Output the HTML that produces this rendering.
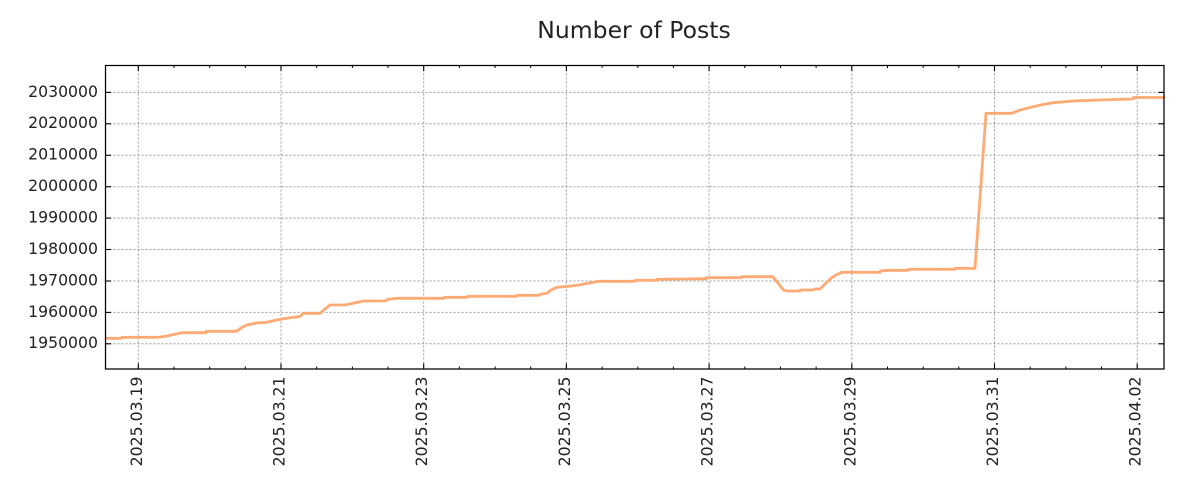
<!DOCTYPE html>
<html>
<head>
<meta charset="utf-8">
<style>
html,body{margin:0;padding:0;background:#fff;}
svg{display:block;}
text{font-family:"DejaVu Sans","Liberation Sans",sans-serif;fill:#222;}
</style>
</head>
<body>
<svg width="1200" height="500" viewBox="0 0 1200 500" xmlns="http://www.w3.org/2000/svg">
<rect x="0" y="0" width="1200" height="500" fill="#fff"/>
<text x="634" y="38" font-size="23.5" text-anchor="middle">Number of Posts</text>

<!-- grid -->
<g stroke="#9a9a9a" stroke-width="1" stroke-dasharray="2,2" fill="none">
  <line x1="105.5" y1="343.8" x2="1164" y2="343.8"/>
  <line x1="105.5" y1="312.4" x2="1164" y2="312.4"/>
  <line x1="105.5" y1="281.0" x2="1164" y2="281.0"/>
  <line x1="105.5" y1="249.5" x2="1164" y2="249.5"/>
  <line x1="105.5" y1="218.1" x2="1164" y2="218.1"/>
  <line x1="105.5" y1="186.7" x2="1164" y2="186.7"/>
  <line x1="105.5" y1="155.3" x2="1164" y2="155.3"/>
  <line x1="105.5" y1="123.8" x2="1164" y2="123.8"/>
  <line x1="105.5" y1="92.4" x2="1164" y2="92.4"/>
  <line x1="138.3" y1="65.5" x2="138.3" y2="369"/>
  <line x1="281.0" y1="65.5" x2="281.0" y2="369"/>
  <line x1="423.7" y1="65.5" x2="423.7" y2="369"/>
  <line x1="566.4" y1="65.5" x2="566.4" y2="369"/>
  <line x1="709.1" y1="65.5" x2="709.1" y2="369"/>
  <line x1="851.8" y1="65.5" x2="851.8" y2="369"/>
  <line x1="994.5" y1="65.5" x2="994.5" y2="369"/>
  <line x1="1137.2" y1="65.5" x2="1137.2" y2="369"/>
</g>

<!-- data line -->
<polyline fill="none" stroke="#fdaa74" stroke-width="2.8" stroke-linejoin="round" points="
105,338.3 121.7,338.3 122,337.3 158.3,337.3 166.7,336 175,334.3 181.7,332.7 206,332.7 206.3,331.3 236.7,331.3
241,328 246.7,325 256.7,323 266.7,322.3 276.7,320 286.7,318.3 300,316.5 303.3,313.3 320,313.3 325,309 330,305
345,305 353,303.3 363.3,301 385,301 388,299.3 396.7,298.3 444,298.3 444.3,297.3 467.7,297.3 468,296.3 516.7,296.3
517,295.3 539,295.3 541,294 546.7,293.5 551,290 556.7,287.3 571.7,286 583.3,284.3 598.3,281.3 635,281.3
635.3,280.3 656.7,280.3 657,279.3 681.7,279 706,278.7 706.3,277.7 741.7,277.7 742,276.7 772.7,276.7 778,283
783.3,290 788.3,291 800,291 800.3,290 812.7,290 815,289 820,289 826,283 831.7,277.7 836,275 841.7,272.3 880,272.3
880.3,271 886.7,270.3 908.3,270.3 908.5,269.3 955,269.3 955.3,268.3 975,268.3 986,113.3 1011.7,113.3 1020,110
1033.3,106.7 1043,104.5 1053.3,102.7 1073.3,101 1098.3,100 1133.3,99 1133.5,97.5 1165,97.5"/>

<!-- spines -->
<rect x="105.5" y="65.5" width="1058.5" height="303.5" fill="none" stroke="#000" stroke-width="1.25"/>

<!-- ticks -->
<g stroke="#000" stroke-width="1.1">
  <!-- y ticks left & right -->
  <line x1="105.5" y1="343.8" x2="111" y2="343.8"/><line x1="1164" y1="343.8" x2="1158.5" y2="343.8"/>
  <line x1="105.5" y1="312.4" x2="111" y2="312.4"/><line x1="1164" y1="312.4" x2="1158.5" y2="312.4"/>
  <line x1="105.5" y1="281.0" x2="111" y2="281.0"/><line x1="1164" y1="281.0" x2="1158.5" y2="281.0"/>
  <line x1="105.5" y1="249.5" x2="111" y2="249.5"/><line x1="1164" y1="249.5" x2="1158.5" y2="249.5"/>
  <line x1="105.5" y1="218.1" x2="111" y2="218.1"/><line x1="1164" y1="218.1" x2="1158.5" y2="218.1"/>
  <line x1="105.5" y1="186.7" x2="111" y2="186.7"/><line x1="1164" y1="186.7" x2="1158.5" y2="186.7"/>
  <line x1="105.5" y1="155.3" x2="111" y2="155.3"/><line x1="1164" y1="155.3" x2="1158.5" y2="155.3"/>
  <line x1="105.5" y1="123.8" x2="111" y2="123.8"/><line x1="1164" y1="123.8" x2="1158.5" y2="123.8"/>
  <line x1="105.5" y1="92.4" x2="111" y2="92.4"/><line x1="1164" y1="92.4" x2="1158.5" y2="92.4"/>
  <!-- x major ticks -->
  <line x1="138.3" y1="369" x2="138.3" y2="363.5"/><line x1="138.3" y1="65.5" x2="138.3" y2="71"/>
  <line x1="281.0" y1="369" x2="281.0" y2="363.5"/><line x1="281.0" y1="65.5" x2="281.0" y2="71"/>
  <line x1="423.7" y1="369" x2="423.7" y2="363.5"/><line x1="423.7" y1="65.5" x2="423.7" y2="71"/>
  <line x1="566.4" y1="369" x2="566.4" y2="363.5"/><line x1="566.4" y1="65.5" x2="566.4" y2="71"/>
  <line x1="709.1" y1="369" x2="709.1" y2="363.5"/><line x1="709.1" y1="65.5" x2="709.1" y2="71"/>
  <line x1="851.8" y1="369" x2="851.8" y2="363.5"/><line x1="851.8" y1="65.5" x2="851.8" y2="71"/>
  <line x1="994.5" y1="369" x2="994.5" y2="363.5"/><line x1="994.5" y1="65.5" x2="994.5" y2="71"/>
  <line x1="1137.2" y1="369" x2="1137.2" y2="363.5"/><line x1="1137.2" y1="65.5" x2="1137.2" y2="71"/>
</g>
<g stroke="#000" stroke-width="1">
  <!-- minor ticks every 12h -->
  <line x1="174.0" y1="369" x2="174.0" y2="366.5"/><line x1="174.0" y1="65.5" x2="174.0" y2="68"/>
  <line x1="209.7" y1="369" x2="209.7" y2="366.5"/><line x1="209.7" y1="65.5" x2="209.7" y2="68"/>
  <line x1="245.3" y1="369" x2="245.3" y2="366.5"/><line x1="245.3" y1="65.5" x2="245.3" y2="68"/>
  <line x1="316.7" y1="369" x2="316.7" y2="366.5"/><line x1="316.7" y1="65.5" x2="316.7" y2="68"/>
  <line x1="352.4" y1="369" x2="352.4" y2="366.5"/><line x1="352.4" y1="65.5" x2="352.4" y2="68"/>
  <line x1="388.0" y1="369" x2="388.0" y2="366.5"/><line x1="388.0" y1="65.5" x2="388.0" y2="68"/>
  <line x1="459.4" y1="369" x2="459.4" y2="366.5"/><line x1="459.4" y1="65.5" x2="459.4" y2="68"/>
  <line x1="495.1" y1="369" x2="495.1" y2="366.5"/><line x1="495.1" y1="65.5" x2="495.1" y2="68"/>
  <line x1="530.7" y1="369" x2="530.7" y2="366.5"/><line x1="530.7" y1="65.5" x2="530.7" y2="68"/>
  <line x1="602.1" y1="369" x2="602.1" y2="366.5"/><line x1="602.1" y1="65.5" x2="602.1" y2="68"/>
  <line x1="637.8" y1="369" x2="637.8" y2="366.5"/><line x1="637.8" y1="65.5" x2="637.8" y2="68"/>
  <line x1="673.4" y1="369" x2="673.4" y2="366.5"/><line x1="673.4" y1="65.5" x2="673.4" y2="68"/>
  <line x1="744.8" y1="369" x2="744.8" y2="366.5"/><line x1="744.8" y1="65.5" x2="744.8" y2="68"/>
  <line x1="780.5" y1="369" x2="780.5" y2="366.5"/><line x1="780.5" y1="65.5" x2="780.5" y2="68"/>
  <line x1="816.1" y1="369" x2="816.1" y2="366.5"/><line x1="816.1" y1="65.5" x2="816.1" y2="68"/>
  <line x1="887.5" y1="369" x2="887.5" y2="366.5"/><line x1="887.5" y1="65.5" x2="887.5" y2="68"/>
  <line x1="923.2" y1="369" x2="923.2" y2="366.5"/><line x1="923.2" y1="65.5" x2="923.2" y2="68"/>
  <line x1="958.8" y1="369" x2="958.8" y2="366.5"/><line x1="958.8" y1="65.5" x2="958.8" y2="68"/>
  <line x1="1030.2" y1="369" x2="1030.2" y2="366.5"/><line x1="1030.2" y1="65.5" x2="1030.2" y2="68"/>
  <line x1="1065.9" y1="369" x2="1065.9" y2="366.5"/><line x1="1065.9" y1="65.5" x2="1065.9" y2="68"/>
  <line x1="1101.5" y1="369" x2="1101.5" y2="366.5"/><line x1="1101.5" y1="65.5" x2="1101.5" y2="68"/>
</g>

<!-- y labels -->
<g font-size="15.7" text-anchor="end">
  <text x="98" y="348.2">1950000</text>
  <text x="98" y="316.8">1960000</text>
  <text x="98" y="285.4">1970000</text>
  <text x="98" y="253.9">1980000</text>
  <text x="98" y="222.5">1990000</text>
  <text x="98" y="191.1">2000000</text>
  <text x="98" y="159.7">2010000</text>
  <text x="98" y="128.2">2020000</text>
  <text x="98" y="96.8">2030000</text>
</g>

<!-- x labels -->
<g font-size="15.7" text-anchor="end">
  <text transform="translate(141.8,376.5) rotate(-90)">2025.03.19</text>
  <text transform="translate(284.5,376.5) rotate(-90)">2025.03.21</text>
  <text transform="translate(427.2,376.5) rotate(-90)">2025.03.23</text>
  <text transform="translate(569.9,376.5) rotate(-90)">2025.03.25</text>
  <text transform="translate(712.6,376.5) rotate(-90)">2025.03.27</text>
  <text transform="translate(855.3,376.5) rotate(-90)">2025.03.29</text>
  <text transform="translate(998.0,376.5) rotate(-90)">2025.03.31</text>
  <text transform="translate(1140.7,376.5) rotate(-90)">2025.04.02</text>
</g>
</svg>
</body>
</html>
